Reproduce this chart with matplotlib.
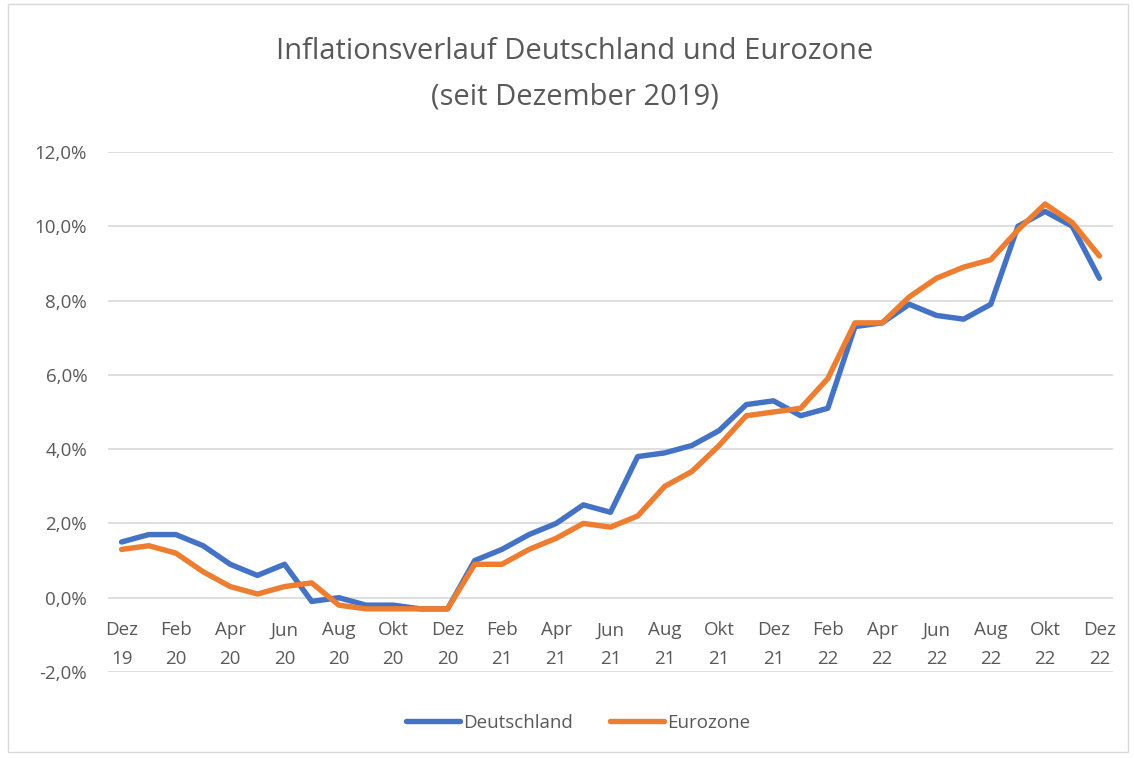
import matplotlib
matplotlib.use("Agg")
import matplotlib.pyplot as plt
from matplotlib.patches import Rectangle

deutschland = [1.5, 1.7, 1.7, 1.4, 0.9, 0.6, 0.9, -0.1, 0.0, -0.2, -0.2, -0.3, -0.3,
               1.0, 1.3, 1.7, 2.0, 2.5, 2.3, 3.8, 3.9, 4.1, 4.5, 5.2, 5.3,
               4.9, 5.1, 7.3, 7.4, 7.9, 7.6, 7.5, 7.9, 10.0, 10.4, 10.0, 8.6]
eurozone = [1.3, 1.4, 1.2, 0.7, 0.3, 0.1, 0.3, 0.4, -0.2, -0.3, -0.3, -0.3, -0.3,
            0.9, 0.9, 1.3, 1.6, 2.0, 1.9, 2.2, 3.0, 3.4, 4.1, 4.9, 5.0,
            5.1, 5.9, 7.4, 7.4, 8.1, 8.6, 8.9, 9.1, 9.9, 10.6, 10.1, 9.2]

tick_labels = ["Dez\n19", "Feb\n20", "Apr\n20", "Jun\n20", "Aug\n20", "Okt\n20", "Dez\n20",
               "Feb\n21", "Apr\n21", "Jun\n21", "Aug\n21", "Okt\n21", "Dez\n21",
               "Feb\n22", "Apr\n22", "Jun\n22", "Aug\n22", "Okt\n22", "Dez\n22"]
y_ticks = [-2, 0, 2, 4, 6, 8, 10, 12]
title = "Inflationsverlauf Deutschland und Eurozone\n(seit Dezember 2019)"

plt.rcParams['font.family'] = ['Open Sans', 'DejaVu Sans']
TXT = "#595959"
BLUE = "#4472C4"
ORANGE = "#ED7D31"

W, H = 1134, 758
fig = plt.figure(figsize=(W / 100, H / 100), dpi=100)
fig.patch.set_facecolor("white")
fig.add_artist(Rectangle((8 / W, 1 - 752 / H), (1128 - 8) / W, (752 - 4) / H,
                         transform=fig.transFigure, fill=False, edgecolor="#D9D9D9", lw=1))

ax = fig.add_axes([108 / W, 1 - 672 / H, (1113 - 108) / W, (672 - 152) / H])
x = list(range(len(deutschland)))
ax.set_xlim(-0.5, len(deutschland) - 0.5)
ax.set_ylim(-2, 12)
for yv in y_ticks:
    ax.axhline(yv, color="#D9D9D9", lw=1.2, zorder=0)

ax.plot(x, deutschland, color=BLUE, lw=3.9, solid_capstyle="round", solid_joinstyle="round",
        label="Deutschland", zorder=3)
ax.plot(x, eurozone, color=ORANGE, lw=3.9, solid_capstyle="round", solid_joinstyle="round",
        label="Eurozone", zorder=4)

for s in ax.spines.values():
    s.set_visible(False)
ax.set_xticks([])
ax.set_yticks(y_ticks)
ax.set_yticklabels([f"{v:.1f}%".replace(".", ",") for v in y_ticks], color=TXT, fontsize=13.5)
ax.tick_params(axis="y", length=0, pad=15)

for i, lab in enumerate(tick_labels):
    ax.annotate(lab, xy=(i * 2, 0), xytext=(0, -17), textcoords="offset points",
                ha="center", va="top", fontsize=13.5, color=TXT, linespacing=1.78)

fig.text(575 / W, 1 - 74 / H, title, ha="center", va="center", fontsize=21,
         color=TXT, linespacing=1.75)

fig.legend(loc="center", bbox_to_anchor=(578 / W, 1 - 723 / H), ncol=2, frameon=False,
           fontsize=13.5, handlelength=2.9, handletextpad=0.15, columnspacing=2.0,
           labelcolor=TXT)

fig.savefig("out.png", dpi=100)
